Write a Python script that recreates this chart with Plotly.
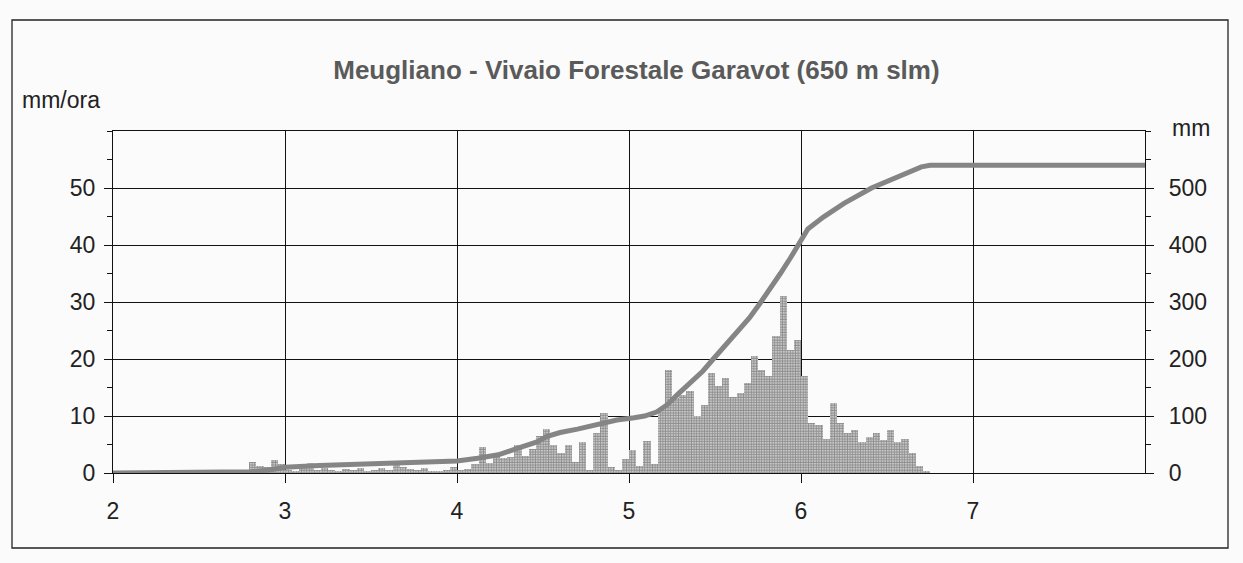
import plotly.graph_objects as go

# ---- data ----
first_hour = 18  # hours counted from the start of day 2
rain_mmh = [
    0.3, 2, 1.2, 1, 2.2, 1.5,
    0.5, 0.3, 0.8, 1.8, 0.5, 0.8, 0.6, 0.3, 0.7, 0.5, 0.8, 0.4,
    0.6, 0.8, 0.5, 2, 1, 0.7, 0.5, 0.8, 0.4, 0.3, 0.6, 1,
    0.5, 0.7, 1.6, 4.5, 1.8, 3.5, 2.7, 2.8, 5, 3, 4.2, 6.5,
    7.7, 5, 3.5, 5, 2, 5.5, 0.5, 7, 10.5, 1, 0.5, 2.5,
    4, 1.2, 5.6, 1.5, 11, 18, 13.2, 13.7, 14.3, 10, 12, 17.5,
    15.2, 16.7, 13.4, 14, 15.8, 20.5, 18.1, 17, 24, 31, 21.6, 23.4,
    17, 8.8, 8.5, 6, 12.3, 8.8, 7, 7.6, 5.5, 6.4, 7, 5.8,
    7.6, 5.5, 6, 3.5, 1.2, 0.3,
]
cum_day = [2.0, 2.75, 2.8, 2.9, 3.0, 3.2, 3.4, 3.6, 3.8, 4.0, 4.12, 4.24, 4.35,
           4.47, 4.52, 4.6, 4.7, 4.83, 4.93, 5.03, 5.09, 5.16, 5.22, 5.28, 5.36,
           5.43, 5.49, 5.55, 5.63, 5.70, 5.76, 5.82, 5.88, 5.94, 5.99, 6.04,
           6.13, 6.25, 6.41, 6.56, 6.70, 6.75, 8.0]
cum_mm = [0, 0, 2, 5, 10, 13, 15, 17, 18, 21, 26, 32, 43,
          55, 64, 71, 77, 87, 93, 97, 100, 107, 119, 137, 158,
          179, 200, 220, 247, 272, 297, 322, 350, 378, 405, 428,
          449, 473, 500, 519, 537, 540, 540]
x_ticks = [2, 3, 4, 5, 6, 7]
left_ticks = [0, 10, 20, 30, 40, 50]
right_ticks = [0, 100, 200, 300, 400, 500]
title_text = "Meugliano - Vivaio Forestale Garavot (650 m slm)"

bar_x = [2 + (first_hour + i + 0.5) / 24 for i in range(len(rain_mmh))]

FONT = "Liberation Sans, Arial, sans-serif"
BG = "#fbfbfb"

fig = go.Figure()
fig.add_trace(go.Bar(
    x=bar_x, y=rain_mmh, width=1 / 24,
    marker=dict(color=BG, line=dict(width=0),
                pattern=dict(shape=".", fgcolor="#1a1a1a", bgcolor=BG,
                             size=2.6, solidity=0.75)),
    yaxis="y", showlegend=False, hoverinfo="skip",
))
fig.add_trace(go.Scatter(
    x=cum_day, y=cum_mm, mode="lines",
    line=dict(color="#858585", width=5),
    yaxis="y2", showlegend=False, hoverinfo="skip",
))

W, H = 1243, 563
L, R, T, B = 113, 1145, 131, 473
pw, ph = R - L, B - T

def px_x(p):
    return (p - L) / pw

def px_y(p):
    return (B - p) / ph

fig.update_layout(
    width=W, height=H,
    margin=dict(l=L, r=W - R, t=T, b=H - B, pad=0),
    paper_bgcolor=BG, plot_bgcolor=BG,
    bargap=0,
    font=dict(family=FONT, size=23, color="#222"),
    title=dict(text=title_text, x=0.512, xanchor="center", y=1 - 70 / H,
               yanchor="middle",
               font=dict(family=FONT, size=26, color="#5a5a5a", weight="bold")),
    xaxis=dict(range=[2, 8], tickvals=x_ticks, showgrid=True, gridcolor="#111",
               gridwidth=1, showline=True, linecolor="#111", linewidth=1.2,
               mirror=True, ticks="outside", ticklen=9, tickcolor="#111",
               ticklabelstandoff=8, zeroline=False),
    yaxis=dict(range=[0, 60], tickvals=left_ticks, showgrid=True,
               gridcolor="#111", gridwidth=1, showline=True, linecolor="#111",
               linewidth=1.2, ticks="outside", ticklen=8, tickcolor="#111",
               ticklabelstandoff=4, zeroline=False,
               minor=dict(dtick=5, tick0=5, ticks="outside", ticklen=5,
                          tickcolor="#111", showgrid=False)),
    yaxis2=dict(range=[0, 600], tickvals=right_ticks, overlaying="y",
                side="right", showgrid=False, showline=True, linecolor="#111",
                linewidth=1.2, ticks="outside", ticklen=8, tickcolor="#111",
                ticklabelstandoff=10, zeroline=False,
                minor=dict(dtick=50, tick0=50, ticks="outside", ticklen=5,
                           tickcolor="#111")),
    annotations=[
        dict(text="mm/ora", xref="paper", yref="paper", x=px_x(61), y=px_y(100),
             showarrow=False, xanchor="center", yanchor="middle",
             font=dict(family=FONT, size=23, color="#222")),
        dict(text="mm", xref="paper", yref="paper", x=px_x(1191), y=px_y(128),
             showarrow=False, xanchor="center", yanchor="middle",
             font=dict(family=FONT, size=23, color="#222")),
    ],
    shapes=[
        dict(type="rect", xref="paper", yref="paper",
             x0=px_x(12), x1=px_x(1228), y0=px_y(548), y1=px_y(20),
             line=dict(color="#222", width=1.3), layer="below"),
    ],
)

fig.write_html("out.html",
               config={"displayModeBar": False},
               post_script="document.body.style.margin='0px';document.body.style.overflow='hidden';")
